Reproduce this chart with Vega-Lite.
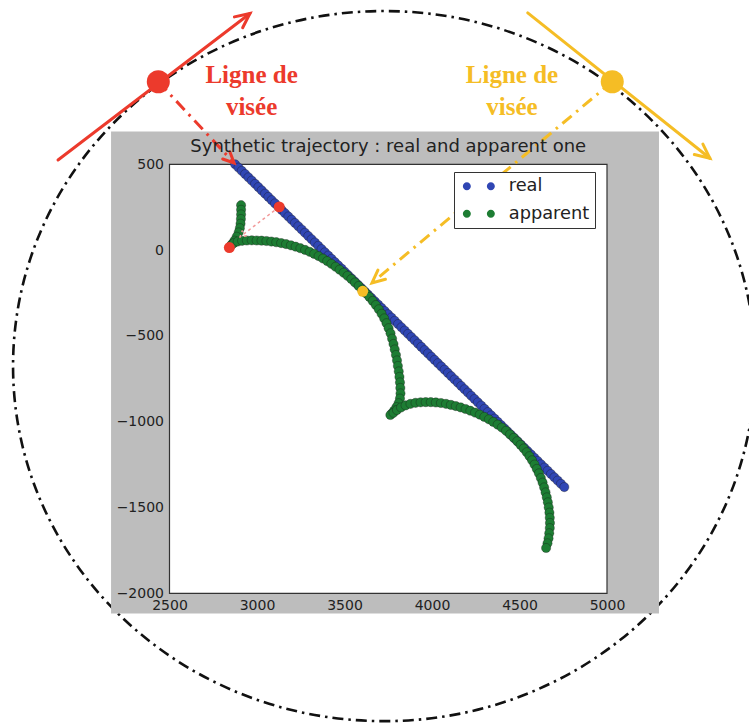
{
  "$schema": "https://vega.github.io/schema/vega-lite/v6.json",
  "autosize": {"type": "none"},
  "width": 437.5,
  "height": 429,
  "padding": {"left": 169.5, "top": 164.3, "right": 142, "bottom": 131.7},
  "background": "white",
  "config": {"view": {"stroke": null}, "font": "DejaVu Sans"},
  "title": {"text": "Synthetic trajectory : real and apparent one", "fontSize": 18, "fontWeight": "normal", "color": "#222222", "offset": -150, "anchor": "middle", "font": "DejaVu Sans"},
  "datasets": {
    "panel": [{"x": 2166, "x2": 5297, "y": -2118, "y2": 691}],
    "plotarea": [{"x": 2500, "x2": 5000, "y": -2000, "y2": 500}],
    "gridx": [{"x": 3000}, {"x": 3500}, {"x": 4000}, {"x": 4500}],
    "gridy": [{"y": -1500}, {"y": -1000}, {"y": -500}, {"y": 0}],
    "orbit": [{"x": 3726, "y": -676}],
    "traj": [
      {"series":"real","x":2875,"y":500},{"series":"real","x":2894,"y":481},{"series":"real","x":2913,"y":462},{"series":"real","x":2932,"y":443},{"series":"real","x":2951,"y":424},{"series":"real","x":2970,"y":405},{"series":"real","x":2989,"y":386},{"series":"real","x":3008,"y":367},{"series":"real","x":3027,"y":348},{"series":"real","x":3046,"y":329},
      {"series":"real","x":3065,"y":310},{"series":"real","x":3084,"y":291},{"series":"real","x":3103,"y":272},{"series":"real","x":3122,"y":253},{"series":"real","x":3141,"y":234},{"series":"real","x":3160,"y":215},{"series":"real","x":3179,"y":196},{"series":"real","x":3198,"y":177},{"series":"real","x":3217,"y":158},{"series":"real","x":3236,"y":139},
      {"series":"real","x":3255,"y":120},{"series":"real","x":3274,"y":101},{"series":"real","x":3293,"y":82},{"series":"real","x":3312,"y":63},{"series":"real","x":3331,"y":44},{"series":"real","x":3350,"y":25},{"series":"real","x":3369,"y":6},{"series":"real","x":3388,"y":-13},{"series":"real","x":3407,"y":-32},{"series":"real","x":3426,"y":-51},
      {"series":"real","x":3445,"y":-70},{"series":"real","x":3464,"y":-89},{"series":"real","x":3483,"y":-108},{"series":"real","x":3502,"y":-127},{"series":"real","x":3521,"y":-146},{"series":"real","x":3540,"y":-165},{"series":"real","x":3559,"y":-184},{"series":"real","x":3578,"y":-203},{"series":"real","x":3597,"y":-222},{"series":"real","x":3616,"y":-241},
      {"series":"real","x":3635,"y":-260},{"series":"real","x":3654,"y":-279},{"series":"real","x":3673,"y":-298},{"series":"real","x":3692,"y":-317},{"series":"real","x":3711,"y":-336},{"series":"real","x":3730,"y":-355},{"series":"real","x":3749,"y":-374},{"series":"real","x":3768,"y":-393},{"series":"real","x":3787,"y":-412},{"series":"real","x":3806,"y":-431},
      {"series":"real","x":3825,"y":-450},{"series":"real","x":3844,"y":-469},{"series":"real","x":3863,"y":-488},{"series":"real","x":3882,"y":-507},{"series":"real","x":3901,"y":-526},{"series":"real","x":3920,"y":-545},{"series":"real","x":3939,"y":-564},{"series":"real","x":3958,"y":-583},{"series":"real","x":3977,"y":-602},{"series":"real","x":3996,"y":-621},
      {"series":"real","x":4015,"y":-640},{"series":"real","x":4034,"y":-659},{"series":"real","x":4053,"y":-678},{"series":"real","x":4072,"y":-697},{"series":"real","x":4091,"y":-716},{"series":"real","x":4110,"y":-735},{"series":"real","x":4129,"y":-754},{"series":"real","x":4148,"y":-773},{"series":"real","x":4167,"y":-792},{"series":"real","x":4186,"y":-811},
      {"series":"real","x":4205,"y":-830},{"series":"real","x":4224,"y":-849},{"series":"real","x":4243,"y":-868},{"series":"real","x":4262,"y":-887},{"series":"real","x":4281,"y":-906},{"series":"real","x":4300,"y":-925},{"series":"real","x":4319,"y":-944},{"series":"real","x":4338,"y":-963},{"series":"real","x":4357,"y":-982},{"series":"real","x":4376,"y":-1001},
      {"series":"real","x":4395,"y":-1020},{"series":"real","x":4414,"y":-1039},{"series":"real","x":4433,"y":-1058},{"series":"real","x":4452,"y":-1077},{"series":"real","x":4471,"y":-1096},{"series":"real","x":4490,"y":-1115},{"series":"real","x":4509,"y":-1134},{"series":"real","x":4528,"y":-1153},{"series":"real","x":4547,"y":-1172},{"series":"real","x":4566,"y":-1191},
      {"series":"real","x":4585,"y":-1210},{"series":"real","x":4604,"y":-1229},{"series":"real","x":4623,"y":-1248},{"series":"real","x":4642,"y":-1267},{"series":"real","x":4661,"y":-1286},{"series":"real","x":4680,"y":-1305},{"series":"real","x":4699,"y":-1324},{"series":"real","x":4718,"y":-1343},{"series":"real","x":4737,"y":-1362},{"series":"real","x":4756,"y":-1381},
      {"series":"apparent","x":2909,"y":262},{"series":"apparent","x":2909,"y":235},{"series":"apparent","x":2909,"y":208},{"series":"apparent","x":2908,"y":181},{"series":"apparent","x":2906,"y":154},{"series":"apparent","x":2902,"y":128},{"series":"apparent","x":2895,"y":103},{"series":"apparent","x":2884,"y":78},{"series":"apparent","x":2871,"y":55},{"series":"apparent","x":2858,"y":36},{"series":"apparent","x":2852,"y":28},
      {"series":"apparent","x":2868,"y":42},{"series":"apparent","x":2890,"y":50},{"series":"apparent","x":2915,"y":54},{"series":"apparent","x":2942,"y":56},{"series":"apparent","x":2970,"y":57},{"series":"apparent","x":2998,"y":56},{"series":"apparent","x":3026,"y":55},{"series":"apparent","x":3054,"y":53},{"series":"apparent","x":3082,"y":50},{"series":"apparent","x":3110,"y":46},
      {"series":"apparent","x":3138,"y":41},{"series":"apparent","x":3166,"y":35},{"series":"apparent","x":3194,"y":28},{"series":"apparent","x":3221,"y":20},{"series":"apparent","x":3248,"y":11},{"series":"apparent","x":3275,"y":1},{"series":"apparent","x":3301,"y":-10},{"series":"apparent","x":3327,"y":-22},{"series":"apparent","x":3352,"y":-35},{"series":"apparent","x":3377,"y":-49},
      {"series":"apparent","x":3401,"y":-64},{"series":"apparent","x":3425,"y":-80},{"series":"apparent","x":3449,"y":-97},{"series":"apparent","x":3472,"y":-114},{"series":"apparent","x":3495,"y":-132},{"series":"apparent","x":3517,"y":-150},{"series":"apparent","x":3539,"y":-169},{"series":"apparent","x":3560,"y":-189},{"series":"apparent","x":3581,"y":-209},{"series":"apparent","x":3602,"y":-230},
      {"series":"apparent","x":3622,"y":-251},{"series":"apparent","x":3642,"y":-273},{"series":"apparent","x":3661,"y":-296},{"series":"apparent","x":3679,"y":-320},{"series":"apparent","x":3696,"y":-345},{"series":"apparent","x":3712,"y":-371},{"series":"apparent","x":3727,"y":-398},{"series":"apparent","x":3740,"y":-426},{"series":"apparent","x":3752,"y":-455},{"series":"apparent","x":3763,"y":-485},
      {"series":"apparent","x":3772,"y":-516},{"series":"apparent","x":3780,"y":-547},{"series":"apparent","x":3787,"y":-579},{"series":"apparent","x":3794,"y":-611},{"series":"apparent","x":3800,"y":-643},{"series":"apparent","x":3805,"y":-675},{"series":"apparent","x":3810,"y":-707},{"series":"apparent","x":3814,"y":-739},{"series":"apparent","x":3817,"y":-771},{"series":"apparent","x":3819,"y":-803},
      {"series":"apparent","x":3820,"y":-835},{"series":"apparent","x":3817,"y":-865},{"series":"apparent","x":3809,"y":-892},{"series":"apparent","x":3797,"y":-915},{"series":"apparent","x":3784,"y":-935},{"series":"apparent","x":3771,"y":-951},{"series":"apparent","x":3762,"y":-961},
      {"series":"apparent","x":3780,"y":-948},{"series":"apparent","x":3800,"y":-932},{"series":"apparent","x":3823,"y":-917},{"series":"apparent","x":3849,"y":-905},{"series":"apparent","x":3877,"y":-896},{"series":"apparent","x":3906,"y":-890},{"series":"apparent","x":3935,"y":-887},{"series":"apparent","x":3964,"y":-886},{"series":"apparent","x":3993,"y":-886},{"series":"apparent","x":4022,"y":-888},
      {"series":"apparent","x":4051,"y":-891},{"series":"apparent","x":4080,"y":-896},{"series":"apparent","x":4108,"y":-902},{"series":"apparent","x":4136,"y":-909},{"series":"apparent","x":4164,"y":-917},{"series":"apparent","x":4192,"y":-926},{"series":"apparent","x":4219,"y":-936},{"series":"apparent","x":4246,"y":-947},{"series":"apparent","x":4273,"y":-959},{"series":"apparent","x":4299,"y":-972},
      {"series":"apparent","x":4325,"y":-986},{"series":"apparent","x":4350,"y":-1001},{"series":"apparent","x":4375,"y":-1017},{"series":"apparent","x":4399,"y":-1034},{"series":"apparent","x":4423,"y":-1053},{"series":"apparent","x":4446,"y":-1074},{"series":"apparent","x":4467,"y":-1094},{"series":"apparent","x":4487,"y":-1114},{"series":"apparent","x":4506,"y":-1135},{"series":"apparent","x":4524,"y":-1156},
      {"series":"apparent","x":4541,"y":-1178},{"series":"apparent","x":4557,"y":-1201},{"series":"apparent","x":4572,"y":-1225},{"series":"apparent","x":4586,"y":-1250},{"series":"apparent","x":4599,"y":-1275},{"series":"apparent","x":4611,"y":-1301},{"series":"apparent","x":4622,"y":-1328},{"series":"apparent","x":4632,"y":-1355},{"series":"apparent","x":4641,"y":-1383},{"series":"apparent","x":4649,"y":-1412},
      {"series":"apparent","x":4656,"y":-1441},{"series":"apparent","x":4662,"y":-1470},{"series":"apparent","x":4667,"y":-1500},{"series":"apparent","x":4671,"y":-1530},{"series":"apparent","x":4673,"y":-1560},{"series":"apparent","x":4674,"y":-1590},{"series":"apparent","x":4673,"y":-1620},{"series":"apparent","x":4670,"y":-1650},{"series":"apparent","x":4666,"y":-1680},{"series":"apparent","x":4660,"y":-1709},{"series":"apparent","x":4652,"y":-1736}
    ],
    "paths": [
      {"observer":"A","part":"track","k":1,"x":1863,"y":525},{"observer":"A","part":"track","k":2,"x":2960,"y":1379},
      {"observer":"A","part":"trackHead","k":1,"x":2871,"y":1359},{"observer":"A","part":"trackHead","k":2,"x":2960,"y":1379},{"observer":"A","part":"trackHead","k":3,"x":2918,"y":1296},
      {"observer":"A","part":"sightHead","k":1,"x":2845,"y":573},{"observer":"A","part":"sightHead","k":2,"x":2869,"y":508},{"observer":"A","part":"sightHead","k":3,"x":2804,"y":531},
      {"observer":"B","part":"track","k":1,"x":4547,"y":1382},{"observer":"B","part":"track","k":2,"x":5588,"y":535},
      {"observer":"B","part":"trackHead","k":1,"x":5548,"y":618},{"observer":"B","part":"trackHead","k":2,"x":5588,"y":535},{"observer":"B","part":"trackHead","k":3,"x":5499,"y":557},
      {"observer":"B","part":"sightHead","k":1,"x":3734,"y":-170},{"observer":"B","part":"sightHead","k":2,"x":3657,"y":-191},{"observer":"B","part":"sightHead","k":3,"x":3691,"y":-117}
    ],
    "sights": [
      {"observer":"A","k":1,"x":2436,"y":981},{"observer":"A","k":2,"x":2869,"y":508},
      {"observer":"B","k":1,"x":5030,"y":981},{"observer":"B","k":2,"x":3657,"y":-191}
    ],
    "projection": [
      {"part":"line","k":1,"x":3127,"y":252},{"part":"line","k":2,"x":2903,"y":77},
      {"part":"head","k":1,"x":2942,"y":83},{"part":"head","k":2,"x":2903,"y":77},{"part":"head","k":3,"x":2917,"y":115}
    ],
    "stations": [{"observer":"A","x":2436,"y":981},{"observer":"B","x":5030,"y":981}],
    "targets": [{"observer":"A","x":3127,"y":252},{"observer":"A","x":2842,"y":15},{"observer":"B","x":3604,"y":-240}],
    "captions": [
      {"observer":"A","text":"Ligne de","x":2969,"y":971},{"observer":"A","text":"visée","x":2969,"y":787},
      {"observer":"B","text":"Ligne de","x":4457,"y":971},{"observer":"B","text":"visée","x":4457,"y":787}
    ]
  },
  "encoding": {
    "x": {"field": "x", "type": "quantitative", "scale": {"domain": [2500, 5000], "nice": false, "zero": false},
      "axis": {"values": [2500, 3000, 3500, 4000, 4500, 5000], "format": "d", "title": null, "grid": false, "ticks": false, "domain": false, "labelFontSize": 14, "labelFont": "DejaVu Sans", "labelColor": "#222222", "labelPadding": 5, "labelFlush": false, "labelOverlap": false, "labelBound": false, "zindex": 1}},
    "y": {"field": "y", "type": "quantitative", "scale": {"domain": [-2000, 500], "nice": false, "zero": false},
      "axis": {"values": [-2000, -1500, -1000, -500, 0, 500], "format": "d", "title": null, "grid": false, "ticks": false, "domain": false, "labelFontSize": 14, "labelFont": "DejaVu Sans", "labelColor": "#222222", "labelPadding": 6, "labelFlush": false, "labelOverlap": false, "labelBound": false, "zindex": 1}}
  },
  "layer": [
    {"data": {"name": "orbit"}, "mark": {"type": "point", "shape": "M 1 0 C 1 0.5285 0.5523 0.957 0 0.957 C -0.5523 0.957 -1 0.5285 -1 0 C -1 -0.5285 -0.5523 -0.957 0 -0.957 C 0.5523 -0.957 1 -0.5285 1 0 Z", "size": 550564, "filled": false, "stroke": "#111111", "strokeWidth": 2.6, "strokeDash": [11, 5, 2.5, 5], "opacity": 1}},
    {"data": {"name": "panel"}, "mark": {"type": "rect", "fill": "#bdbdbd"}, "encoding": {"x2": {"field": "x2"}, "y2": {"field": "y2"}}},
    {"data": {"name": "plotarea"}, "mark": {"type": "rect", "fill": "white", "stroke": "#333333", "strokeWidth": 1.2}, "encoding": {"x2": {"field": "x2"}, "y2": {"field": "y2"}}},
    {"data": {"name": "gridx"}, "mark": {"type": "rule", "stroke": "#9fbdd3", "strokeWidth": 1, "strokeDash": [1.5, 2.5]}, "encoding": {"y": {"datum": -2000}, "y2": {"datum": 500}}},
    {"data": {"name": "gridy"}, "mark": {"type": "rule", "stroke": "#9fbdd3", "strokeWidth": 1, "strokeDash": [1.5, 2.5]}, "encoding": {"x": {"datum": 2500}, "x2": {"datum": 5000}}},
    {"data": {"name": "traj"}, "mark": {"type": "point", "filled": true, "size": 85, "stroke": "#1a1a1a", "strokeWidth": 0.6, "strokeOpacity": 0.6, "opacity": 1},
      "encoding": {"color": {"field": "series", "type": "nominal", "scale": {"domain": ["real", "apparent"], "range": ["#3046b4", "#1d7d33"]},
        "legend": {"title": null, "orient": "none", "legendX": 284.5, "legendY": 7.7,
          "symbolType": "M -2 0 C -2 0.5523 -2.4477 1 -3 1 C -3.5523 1 -4 0.5523 -4 0 C -4 -0.5523 -3.5523 -1 -3 -1 C -2.4477 -1 -2 -0.5523 -2 0 Z M 4 0 C 4 0.5523 3.5523 1 3 1 C 2.4477 1 2 0.5523 2 0 C 2 -0.5523 2.4477 -1 3 -1 C 3.5523 -1 4 -0.5523 4 0 Z",
          "symbolSize": 64, "symbolStrokeWidth": 0, "symbolOpacity": 1, "labelFontSize": 17.8, "labelFont": "DejaVu Sans", "labelColor": "#222222",
          "strokeColor": "#333333", "fillColor": "white", "padding": 5.25, "symbolOffset": 10.7, "labelOffset": 21, "rowPadding": 8.5, "cornerRadius": 0}}}},
    {"data": {"name": "projection"}, "mark": {"type": "line", "stroke": "#f29a9a", "strokeWidth": 1.5, "strokeDash": [3, 3]}, "encoding": {"detail": {"field": "part"}, "order": {"field": "k"}}},
    {"data": {"name": "targets"}, "mark": {"type": "point", "filled": true, "size": 120, "opacity": 1}, "encoding": {"fill": {"field": "observer", "type": "nominal", "scale": {"domain": ["A", "B"], "range": ["#ec3a2c", "#f5bd25"]}, "legend": null}}},
    {"data": {"name": "paths"}, "mark": {"type": "line", "strokeWidth": 3, "strokeCap": "round"}, "encoding": {"detail": {"field": "part"}, "order": {"field": "k"}, "stroke": {"field": "observer", "type": "nominal", "scale": {"domain": ["A", "B"], "range": ["#ec3a2c", "#f5bd25"]}, "legend": null}}},
    {"data": {"name": "sights"}, "mark": {"type": "line", "strokeWidth": 3, "strokeDash": [12, 6, 2.5, 6]}, "encoding": {"detail": {"field": "observer"}, "order": {"field": "k"}, "stroke": {"field": "observer", "type": "nominal", "scale": {"domain": ["A", "B"], "range": ["#ec3a2c", "#f5bd25"]}, "legend": null}}},
    {"data": {"name": "stations"}, "mark": {"type": "point", "filled": true, "size": 530, "opacity": 1}, "encoding": {"fill": {"field": "observer", "type": "nominal", "scale": {"domain": ["A", "B"], "range": ["#ec3a2c", "#f5bd25"]}, "legend": null}}},
    {"data": {"name": "captions"}, "mark": {"type": "text", "font": "Liberation Serif", "fontWeight": "bold", "fontSize": 25, "align": "center", "baseline": "alphabetic"}, "encoding": {"text": {"field": "text"}, "fill": {"field": "observer", "type": "nominal", "scale": {"domain": ["A", "B"], "range": ["#ec3a2c", "#f5bd25"]}, "legend": null}}}
  ]
}
